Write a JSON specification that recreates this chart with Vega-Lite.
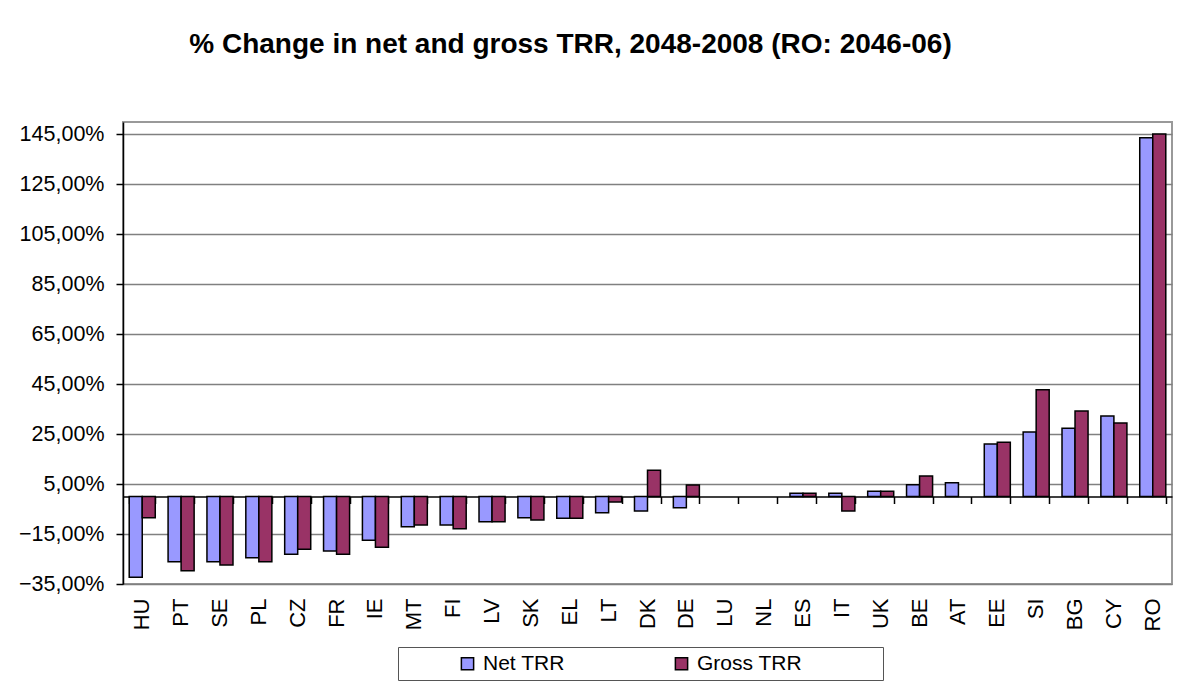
{
  "$schema": "https://vega.github.io/schema/vega-lite/v6.json",
  "autosize": {"type": "none"},
  "padding": {"left": 123, "top": 122, "right": 20, "bottom": 102},
  "width": 1049,
  "height": 462,
  "background": "white",
  "title": {
    "text": "% Change in net and gross TRR, 2048-2008 (RO: 2046-06)",
    "font": "Liberation Sans",
    "fontSize": 28,
    "fontWeight": "bold",
    "color": "black",
    "anchor": "middle",
    "frame": "group",
    "dx": -77,
    "offset": 63
  },
  "data": {
    "values": [
      {"country": "HU", "series": "Net TRR", "value": -32.3},
      {"country": "HU", "series": "Gross TRR", "value": -8.5},
      {"country": "PT", "series": "Net TRR", "value": -26.1},
      {"country": "PT", "series": "Gross TRR", "value": -29.7},
      {"country": "SE", "series": "Net TRR", "value": -26.1},
      {"country": "SE", "series": "Gross TRR", "value": -27.4},
      {"country": "PL", "series": "Net TRR", "value": -24.5},
      {"country": "PL", "series": "Gross TRR", "value": -26.1},
      {"country": "CZ", "series": "Net TRR", "value": -23.1},
      {"country": "CZ", "series": "Gross TRR", "value": -21.1},
      {"country": "FR", "series": "Net TRR", "value": -21.8},
      {"country": "FR", "series": "Gross TRR", "value": -23.1},
      {"country": "IE", "series": "Net TRR", "value": -17.5},
      {"country": "IE", "series": "Gross TRR", "value": -20.3},
      {"country": "MT", "series": "Net TRR", "value": -12.1},
      {"country": "MT", "series": "Gross TRR", "value": -11.4},
      {"country": "FI", "series": "Net TRR", "value": -11.4},
      {"country": "FI", "series": "Gross TRR", "value": -12.9},
      {"country": "LV", "series": "Net TRR", "value": -10.1},
      {"country": "LV", "series": "Gross TRR", "value": -10.1},
      {"country": "SK", "series": "Net TRR", "value": -8.5},
      {"country": "SK", "series": "Gross TRR", "value": -9.4},
      {"country": "EL", "series": "Net TRR", "value": -8.7},
      {"country": "EL", "series": "Gross TRR", "value": -8.7},
      {"country": "LT", "series": "Net TRR", "value": -6.5},
      {"country": "LT", "series": "Gross TRR", "value": -2.2},
      {"country": "DK", "series": "Net TRR", "value": -5.8},
      {"country": "DK", "series": "Gross TRR", "value": 10.5},
      {"country": "DE", "series": "Net TRR", "value": -4.5},
      {"country": "DE", "series": "Gross TRR", "value": 4.6},
      {"country": "ES", "series": "Net TRR", "value": 1.3},
      {"country": "ES", "series": "Gross TRR", "value": 1.3},
      {"country": "IT", "series": "Net TRR", "value": 1.3},
      {"country": "IT", "series": "Gross TRR", "value": -5.8},
      {"country": "UK", "series": "Net TRR", "value": 2.1},
      {"country": "UK", "series": "Gross TRR", "value": 2.1},
      {"country": "BE", "series": "Net TRR", "value": 4.7},
      {"country": "BE", "series": "Gross TRR", "value": 8.2},
      {"country": "AT", "series": "Net TRR", "value": 5.5},
      {"country": "EE", "series": "Net TRR", "value": 21.0},
      {"country": "EE", "series": "Gross TRR", "value": 21.7},
      {"country": "SI", "series": "Net TRR", "value": 25.8},
      {"country": "SI", "series": "Gross TRR", "value": 42.7},
      {"country": "BG", "series": "Net TRR", "value": 27.3},
      {"country": "BG", "series": "Gross TRR", "value": 34.2},
      {"country": "CY", "series": "Net TRR", "value": 32.2},
      {"country": "CY", "series": "Gross TRR", "value": 29.4},
      {"country": "RO", "series": "Net TRR", "value": 143.5},
      {"country": "RO", "series": "Gross TRR", "value": 145.0}
    ]
  },
  "layer": [
    {
      "mark": {"type": "bar", "stroke": "black", "strokeWidth": 1.5, "opacity": 1},
      "encoding": {
        "x": {
          "field": "country",
          "type": "nominal",
          "sort": null,
          "scale": {
            "domain": ["HU", "PT", "SE", "PL", "CZ", "FR", "IE", "MT", "FI", "LV", "SK", "EL", "LT", "DK", "DE", "LU", "NL", "ES", "IT", "UK", "BE", "AT", "EE", "SI", "BG", "CY", "RO"],
            "paddingInner": 0.33,
            "paddingOuter": 0.16
          },
          "axis": {
            "title": null,
            "labelAngle": -90,
            "labelFont": "Liberation Sans",
            "labelFontSize": 22,
            "labelColor": "black",
            "labelPadding": 14,
            "domain": false,
            "ticks": false,
            "grid": false
          }
        },
        "xOffset": {"field": "series", "type": "nominal", "sort": ["Net TRR", "Gross TRR"], "scale": {"domain": ["Net TRR", "Gross TRR"], "paddingInner": 0, "paddingOuter": 0}},
        "y": {
          "field": "value",
          "type": "quantitative",
          "scale": {"domain": [-35, 149.8], "nice": false, "zero": false},
          "axis": {
            "title": null,
            "values": [-35, -15, 5, 25, 45, 65, 85, 105, 125, 145],
            "labelExpr": "replace(format(datum.value, '.2f'), '.', ',') + '%'",
            "labelFont": "Liberation Sans",
            "labelFontSize": 21.5,
            "labelColor": "black",
            "labelPadding": 12,
            "tickSize": 7,
            "tickColor": "black",
            "tickWidth": 1.5,
            "domainColor": "black",
            "domainWidth": 1.5,
            "grid": true,
            "gridColor": "#808080",
            "gridWidth": 1.5
          }
        },
        "color": {
          "field": "series",
          "type": "nominal",
          "scale": {"domain": ["Net TRR", "Gross TRR"], "range": ["#9999FF", "#993366"]},
          "legend": {
            "title": null,
            "orient": "none",
            "legendX": 275,
            "legendY": 525,
            "direction": "horizontal",
            "strokeColor": "#555555",
            "padding": 6,
            "symbolType": "square",
            "symbolSize": 150,
            "symbolStrokeColor": "black",
            "symbolStrokeWidth": 1.5,
            "symbolOffset": 53,
            "columnPadding": 53,
            "labelFont": "Liberation Sans",
            "labelFontSize": 21,
            "labelColor": "black",
            "labelOffset": 5,
            "labelLimit": 400,
            "labelExpr": "datum.label == 'Gross TRR' ? 'Gross TRR\u2800\u2800\u2800\u2800\u2800' : datum.label"
          }
        }
      }
    },
    {
      "mark": {"type": "point", "opacity": 0},
      "encoding": {
        "x": {
          "field": "country",
          "type": "nominal",
          "sort": null,
          "axis": {
            "title": null,
            "orient": "bottom",
            "offset": -87.5,
            "labels": false,
            "domain": true,
            "domainColor": "black",
            "domainWidth": 1.5,
            "ticks": true,
            "tickBand": "extent",
            "tickSize": 7,
            "tickColor": "black",
            "tickWidth": 1.5,
            "grid": false
          }
        },
        "y": {"datum": 0, "type": "quantitative"}
      }
    }
  ],
  "resolve": {"axis": {"x": "independent"}},
  "config": {
    "view": {"stroke": "#999999", "strokeWidth": 2}
  }
}
